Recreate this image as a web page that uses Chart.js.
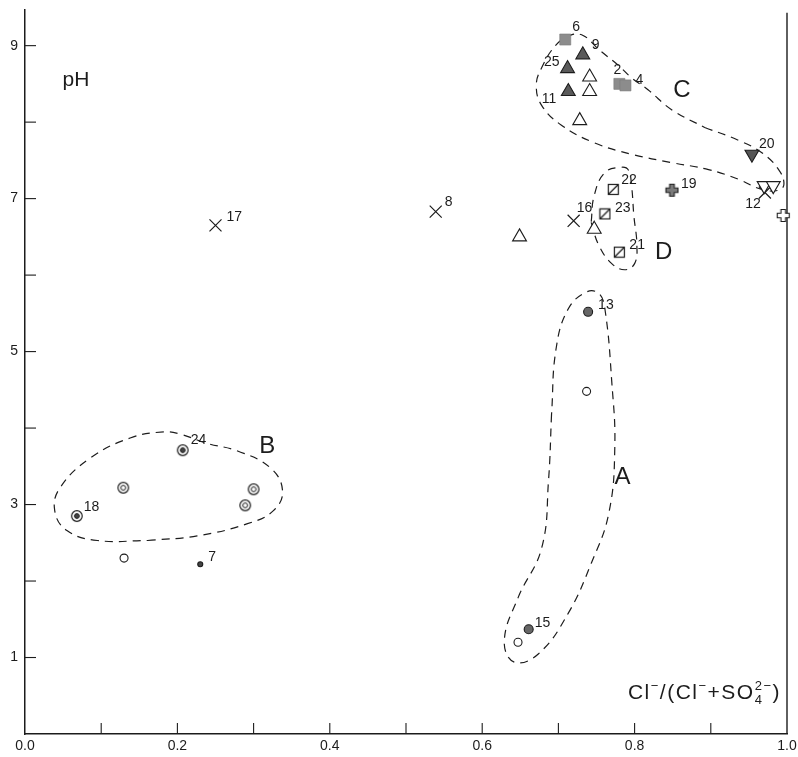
<!DOCTYPE html>
<html>
<head>
<meta charset="utf-8">
<script src="https://cdn.jsdelivr.net/npm/chart.js@4.4.1/dist/chart.umd.min.js"></script>
<style>
  html, body { margin: 0; padding: 0; background: #fff; }
</style>
</head>
<body>
<canvas id="phChart" width="798" height="757"></canvas>
<script>
const INK = '#1c1c1c';
const FONT = '"Liberation Sans", Arial, sans-serif';

// axis ticks
const xTicks = [0, 0.1, 0.2, 0.3, 0.4, 0.5, 0.6, 0.7, 0.8, 0.9, 1.0];
const xTickLabels = ['0.0', '0.2', '0.4', '0.6', '0.8', '1.0'];
const yTicks = [0, 1, 2, 3, 4, 5, 6, 7, 8, 9];
const yTickLabels = [1, 3, 5, 7, 9];

// samples, by marker type: x = Cl/(Cl+SO4), y = pH
const greySquares = [
    { x: 0.709, y: 9.08, id: '6' },
    { x: 0.780, y: 8.50, id: '2' },
    { x: 0.788, y: 8.48, id: '4' }
];
const filledTriangles = [
    { x: 0.732, y: 8.88, id: '9' },
    { x: 0.712, y: 8.70, id: '25' },
    { x: 0.713, y: 8.40, id: '11' }
];
const openTriangles = [
    { x: 0.741, y: 8.59 }, { x: 0.741, y: 8.40 }, { x: 0.728, y: 8.02 },
    { x: 0.747, y: 6.60 }, { x: 0.649, y: 6.50 }
];
const filledDownTriangles = [{ x: 0.954, y: 7.58, id: '20' }];
const openDownTriangles = [{ x: 0.970, y: 7.17 }, { x: 0.982, y: 7.17 }];
const crosses = [
    { x: 0.250, y: 6.65, id: '17' },
    { x: 0.539, y: 6.83, id: '8' },
    { x: 0.720, y: 6.71, id: '16' },
    { x: 0.971, y: 7.08, id: '12' }
];
const slashedSquares = [
    { x: 0.772, y: 7.12, id: '22' },
    { x: 0.761, y: 6.80, id: '23' },
    { x: 0.780, y: 6.30, id: '21' }
];
const filledPlus = [{ x: 0.849, y: 7.11, id: '19' }];
const openPlus = [{ x: 0.995, y: 6.78 }];
const greyCircles = [
    { x: 0.739, y: 5.52, id: '13' },
    { x: 0.661, y: 1.37, id: '15' }
];
const openCircles = [{ x: 0.737, y: 4.48 }, { x: 0.647, y: 1.20 }, { x: 0.130, y: 2.30 }];
const ringedDots = [{ x: 0.207, y: 3.71, id: '24' }, { x: 0.068, y: 2.85, id: '18' }];
const rings = [{ x: 0.129, y: 3.22 }, { x: 0.300, y: 3.20 }, { x: 0.289, y: 2.99 }];
const smallDots = [{ x: 0.230, y: 2.22, id: '7' }];

// dashed group outlines, starting on a straight stretch
const outlineA = [
    [0.691, 4.18], [0.687, 3.31], [0.678, 2.43], [0.647, 1.78], [0.629, 1.22], [0.642, 0.94],
    [0.674, 1.05], [0.713, 1.58], [0.743, 2.23], [0.766, 2.88], [0.774, 3.74], [0.770, 4.61],
    [0.761, 5.56], [0.753, 5.76], [0.737, 5.78], [0.713, 5.56], [0.697, 5.04]
];
const outlineB = [
    [0.161, 2.53], [0.226, 2.59], [0.292, 2.75], [0.326, 2.92], [0.338, 3.18], [0.322, 3.48],
    [0.279, 3.70], [0.239, 3.80], [0.204, 3.92], [0.182, 3.95], [0.138, 3.87], [0.086, 3.61],
    [0.046, 3.22], [0.039, 2.92], [0.055, 2.66], [0.095, 2.53]
];
const outlineC = [
    [0.892, 7.93], [0.937, 7.76], [0.967, 7.60], [0.989, 7.38], [0.996, 7.19], [0.989, 7.11],
    [0.967, 7.12], [0.937, 7.25], [0.897, 7.38], [0.849, 7.47], [0.796, 7.58], [0.747, 7.73],
    [0.704, 7.96], [0.678, 8.22], [0.671, 8.48], [0.678, 8.71], [0.697, 9.01], [0.717, 9.14],
    [0.733, 9.13], [0.753, 8.95], [0.779, 8.74], [0.796, 8.58], [0.818, 8.42], [0.849, 8.16]
];
const outlineD = [
    [0.743, 6.69], [0.753, 6.39], [0.770, 6.15], [0.787, 6.07], [0.800, 6.15], [0.803, 6.39],
    [0.799, 6.78], [0.796, 7.17], [0.792, 7.37], [0.783, 7.41], [0.761, 7.34], [0.747, 7.04]
];
const groupLabels = [
    { text: 'A', x: 0.784, y: 3.35 },
    { text: 'B', x: 0.318, y: 3.76 },
    { text: 'C', x: 0.862, y: 8.42 },
    { text: 'D', x: 0.838, y: 6.30 }
];

// where each sample number sits relative to its marker
const labelOffsets = {
    '6': [7, -12, 'left'], '9': [9, -10, 'left'], '25': [-8, -6, 'right'], '2': [-2, -14, 'center'],
    '4': [10, -5, 'left'], '11': [-12, 8, 'right'], '20': [7, -10, 'left'], '12': [-4, 12, 'right'],
    '22': [8, -9, 'left'], '23': [10, -6, 'left'], '21': [10, -7, 'left'], '16': [3, -13, 'left'],
    '19': [9, -6, 'left'], '17': [11, -8, 'left'], '8': [9, -9, 'left'], '13': [10, -7, 'left'],
    '15': [6, -6, 'left'], '24': [8, -10, 'left'], '18': [7, -9, 'left'], '7': [8, -7, 'left']
};

function icon(size, draw) {
    const c = document.createElement('canvas');
    c.width = size;
    c.height = size;
    const g = c.getContext('2d');
    g.strokeStyle = INK;
    draw(g, size / 2);
    return c;
}

const slashedSquareIcon = icon(13, (g) => {
    g.lineWidth = 1.2;
    g.fillStyle = '#fff';
    g.fillRect(1.5, 1.5, 10, 10);
    g.strokeRect(1.5, 1.5, 10, 10);
    g.beginPath();
    g.moveTo(1.5, 11.5);
    g.lineTo(11.5, 1.5);
    g.stroke();
});

function plusIcon(fill) {
    return icon(15, (g, c) => {
        const a = 6, t = 2.3;
        g.beginPath();
        g.moveTo(c - t, c - a); g.lineTo(c + t, c - a); g.lineTo(c + t, c - t);
        g.lineTo(c + a, c - t); g.lineTo(c + a, c + t); g.lineTo(c + t, c + t);
        g.lineTo(c + t, c + a); g.lineTo(c - t, c + a); g.lineTo(c - t, c + t);
        g.lineTo(c - a, c + t); g.lineTo(c - a, c - t); g.lineTo(c - t, c - t);
        g.closePath();
        g.fillStyle = fill;
        g.fill();
        g.lineWidth = 1.1;
        g.stroke();
    });
}

function ringIcon(dot) {
    return icon(14, (g, c) => {
        g.fillStyle = '#fff';
        g.lineWidth = 1.2;
        g.beginPath(); g.arc(c, c, 5.3, 0, Math.PI * 2); g.fill(); g.stroke();
        g.lineWidth = 1;
        g.beginPath(); g.arc(c, c, 2.4, 0, Math.PI * 2);
        if (dot) { g.fillStyle = '#444'; g.fill(); }
        g.stroke();
    });
}

function markers(data, style, extra) {
    return Object.assign({
        data: data,
        pointStyle: style,
        pointBorderColor: INK,
        pointBackgroundColor: '#fff',
        pointBorderWidth: 1.1,
        pointRadius: 4,
        pointHoverRadius: 4,
        clip: false,
        order: 0
    }, extra || {});
}

function outline(points) {
    const pts = points.map(p => ({ x: p[0], y: p[1] }));
    pts.push(pts[0]);
    return {
        data: pts,
        showLine: true,
        tension: 0.42,
        borderColor: INK,
        borderWidth: 1.2,
        borderDash: [8, 6],
        pointRadius: 0,
        pointHoverRadius: 0,
        fill: false,
        clip: false,
        order: 1
    };
}

function drawRich(ctx, right, base, parts) {
    const sizes = { n: 21, sup: 13, sub: 13, stack: 13 };
    const dys = { n: 0, sup: -9, sub: 5, stack: 5 };
    ctx.letterSpacing = '1.5px';
    let total = 0;
    parts.forEach(p => {
        ctx.font = sizes[p[1]] + 'px ' + FONT;
        if (p[1] !== 'stack') total += ctx.measureText(p[0]).width;
    });
    let x = right - total;
    parts.forEach(p => {
        ctx.font = sizes[p[1]] + 'px ' + FONT;
        ctx.fillText(p[0], x, base + dys[p[1]]);
        if (p[1] !== 'stack') x += ctx.measureText(p[0]).width;
    });
    ctx.letterSpacing = '0px';
}

const inkPlugin = {
    id: 'ink',
    beforeDatasetsDraw(chart) {
        const { ctx, chartArea: a, scales: { x, y } } = chart;
        ctx.save();
        ctx.strokeStyle = INK;
        ctx.lineWidth = 1.4;
        ctx.beginPath();
        ctx.moveTo(a.right, a.top + 3);
        ctx.lineTo(a.right, a.bottom);
        ctx.stroke();
        // inward tick marks
        ctx.lineWidth = 1.1;
        x.ticks.forEach(t => {
            if (t.value <= 0 || t.value >= 1) return;
            const px = x.getPixelForValue(t.value);
            ctx.beginPath(); ctx.moveTo(px, a.bottom); ctx.lineTo(px, a.bottom - 11); ctx.stroke();
        });
        y.ticks.forEach(t => {
            if (t.value <= 0) return;
            const py = y.getPixelForValue(t.value);
            ctx.beginPath(); ctx.moveTo(a.left, py); ctx.lineTo(a.left + 11, py); ctx.stroke();
        });
        ctx.restore();
    },
    afterDatasetsDraw(chart) {
        const { ctx, scales: { x, y } } = chart;
        ctx.save();
        ctx.fillStyle = INK;
        ctx.textBaseline = 'middle';
        ctx.font = '14px ' + FONT;
        chart.data.datasets.forEach((ds, i) => {
            const meta = chart.getDatasetMeta(i);
            ds.data.forEach((p, j) => {
                if (!p.id) return;
                const el = meta.data[j];
                const off = labelOffsets[p.id] || [8, -8, 'left'];
                ctx.textAlign = off[2];
                ctx.fillText(p.id, el.x + off[0], el.y + off[1]);
            });
        });
        ctx.font = '24px ' + FONT;
        ctx.textAlign = 'center';
        groupLabels.forEach(g => {
            ctx.fillText(g.text, x.getPixelForValue(g.x), y.getPixelForValue(g.y));
        });
        ctx.font = '21px ' + FONT;
        ctx.fillText('pH', 76, 80);
        ctx.textAlign = 'left';
        ctx.textBaseline = 'alphabetic';
        drawRich(ctx, 781, 699, [
            ['Cl', 'n'], ['\u2212', 'sup'], ['/(Cl', 'n'], ['\u2212', 'sup'],
            ['+SO', 'n'], ['4', 'stack'], ['2\u2212', 'sup'], [')', 'n']
        ]);
        ctx.restore();
    }
};

new Chart(document.getElementById('phChart'), {
    type: 'scatter',
    data: {
        datasets: [
            markers(greySquares, 'rect', { pointRadius: 7.8, pointBackgroundColor: '#8c8c8c', pointBorderColor: '#7a7a7a', pointBorderWidth: 0.6 }),
            markers(filledTriangles, 'triangle', { pointRadius: 8, pointBackgroundColor: '#5a5a5a' }),
            markers(openTriangles, 'triangle', { pointRadius: 8 }),
            markers(filledDownTriangles, 'triangle', { pointRadius: 8, rotation: 180, pointBackgroundColor: '#555' }),
            markers(openDownTriangles, 'triangle', { pointRadius: 8, rotation: 180 }),
            markers(crosses, 'crossRot', { pointRadius: 8.5, pointBorderWidth: 1.2 }),
            markers(slashedSquares, slashedSquareIcon),
            markers(filledPlus, plusIcon('#7a7a7a')),
            markers(openPlus, plusIcon('#fff')),
            markers(greyCircles, 'circle', { pointRadius: 4.5, pointBackgroundColor: '#666' }),
            markers(openCircles, 'circle', { pointRadius: 4 }),
            markers(ringedDots, ringIcon(true)),
            markers(rings, ringIcon(false)),
            markers(smallDots, 'circle', { pointRadius: 2.5, pointBackgroundColor: '#444' }),
            outline(outlineA),
            outline(outlineB),
            outline(outlineC),
            outline(outlineD)
        ]
    },
    plugins: [inkPlugin],
    options: {
        responsive: false,
        animation: false,
        layout: { padding: { top: 7, right: 11, left: 0, bottom: 0 } },
        plugins: {
            legend: { display: false },
            tooltip: { enabled: false }
        },
        scales: {
            x: {
                type: 'linear',
                min: 0,
                max: 1,
                afterBuildTicks: s => { s.ticks = xTicks.map(v => ({ value: v })); },
                afterFit: s => { s.height = 23; s.paddingLeft = 0; s.paddingRight = 0; },
                grid: { display: true, drawOnChartArea: false, drawTicks: false },
                border: { display: true, color: INK, width: 1.5 },
                ticks: {
                    autoSkip: false,
                    maxRotation: 0,
                    padding: 4,
                    color: INK,
                    font: { family: FONT, size: 14 },
                    callback: v => {
                        const s = Number(v).toFixed(1);
                        return xTickLabels.includes(s) ? s : '';
                    }
                }
            },
            y: {
                type: 'linear',
                min: 0,
                max: 9.47,
                afterBuildTicks: s => { s.ticks = yTicks.map(v => ({ value: v })); },
                afterFit: s => { s.width = 25; s.paddingTop = 0; s.paddingBottom = 0; },
                grid: { display: true, drawOnChartArea: false, drawTicks: false },
                border: { display: true, color: INK, width: 1.5 },
                ticks: {
                    autoSkip: false,
                    padding: 7,
                    color: INK,
                    font: { family: FONT, size: 14 },
                    callback: v => yTickLabels.includes(v) ? String(v) : ''
                }
            }
        }
    }
});
</script>
</body>
</html>
